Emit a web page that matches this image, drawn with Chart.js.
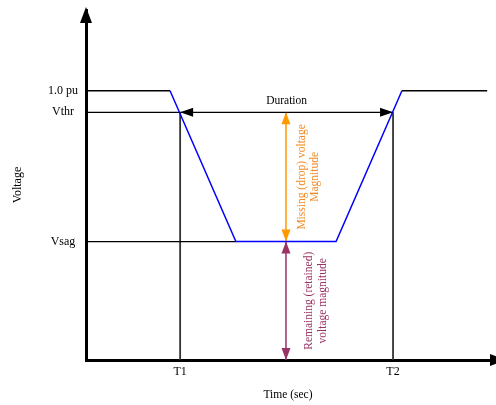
<!DOCTYPE html>
<html>
<head>
<meta charset="utf-8">
<script src="https://cdn.jsdelivr.net/npm/chart.js@4.4.1/dist/chart.umd.min.js"></script>
<style>
  html, body { margin: 0; padding: 0; background: #fff; }
  #wrap { width: 496px; height: 405px; }
</style>
</head>
<body>
<div id="wrap"><canvas id="sag-chart"></canvas></div>
<script>
// voltage sag profile, time in arbitrary units, voltage in pu
var sagTimes = [2.08, 3.71, 6.19, 7.82];
var sagVolts = [1.0, 0.44, 0.44, 1.0];
var startTime = 0;
var endTime = 9.93;
var nominal = 1.0;
var vthr = 0.92;
var vsag = 0.44;
var t1 = 2.33;
var t2 = 7.6;
var markTime = 4.95;

var yTickValues = [vsag, vthr, nominal];
var yTickLabels = ['Vsag', 'Vthr', '1.0 pu'];
var xTickValues = [t1, t2];
var xTickLabels = ['T1', 'T2'];

var missingText = ['Missing (drop) voltage', 'Magnitude'];
var remainingText = ['Remaining (retained)', 'voltage magnitude'];

var FONT = 'Liberation Serif';

function seg(points, color, width, heads) {
    return {
        data: points,
        borderColor: color,
        borderWidth: width,
        pointRadius: 0,
        fill: false,
        tension: 0,
        heads: heads || null
    };
}

var sagPoints = sagTimes.map(function(t, i) { return {x: t, y: sagVolts[i]}; });

var datasets = [
    seg([{x: startTime, y: nominal}, sagPoints[0]], '#000', 1.3),
    seg(sagPoints, '#0000ff', 1.5),
    seg([sagPoints[sagPoints.length - 1], {x: endTime, y: nominal}], '#000', 1.3),
    seg([{x: startTime, y: vthr}, {x: t1, y: vthr}], '#000', 1.2),
    seg([{x: t1, y: vthr}, {x: t2, y: vthr}], '#000', 1.3, {color: '#000', len: 13, half: 4.5}),
    seg([{x: startTime, y: vsag}, {x: sagTimes[1], y: vsag}], '#000', 1.2),
    seg([{x: t1, y: 0}, {x: t1, y: vthr}], '#333', 1.8),
    seg([{x: t2, y: 0}, {x: t2, y: vthr}], '#333', 1.8),
    seg([{x: markTime, y: vthr}, {x: markTime, y: vsag}], '#ff9900', 1.5, {color: '#ff9900', len: 12, half: 4.5}),
    seg([{x: markTime, y: vsag}, {x: markTime, y: 0}], '#993366', 1.5, {color: '#993366', len: 12, half: 4.5})
];

function drawHead(ctx, fx, fy, tx, ty, len, half, color) {
    var ang = Math.atan2(ty - fy, tx - fx);
    ctx.save();
    ctx.translate(tx, ty);
    ctx.rotate(ang);
    ctx.beginPath();
    ctx.moveTo(0, 0);
    ctx.lineTo(-len, -half);
    ctx.lineTo(-len, half);
    ctx.closePath();
    ctx.fillStyle = color;
    ctx.fill();
    ctx.restore();
}

function rotatedLines(ctx, lines, cx, cy, step, color) {
    ctx.save();
    ctx.fillStyle = color;
    ctx.font = '11.5px "' + FONT + '"';
    ctx.textAlign = 'center';
    ctx.textBaseline = 'middle';
    lines.forEach(function(line, i) {
        ctx.save();
        ctx.translate(cx + i * step, cy);
        ctx.rotate(-Math.PI / 2);
        ctx.fillText(line, 0, 0);
        ctx.restore();
    });
    ctx.restore();
}

var notesPlugin = {
    id: 'notes',
    afterDatasetsDraw: function(chart) {
        var ctx = chart.ctx;
        var xs = chart.scales.x, ys = chart.scales.y;
        var area = chart.chartArea;

        // arrow heads on both ends of marked segments
        chart.data.datasets.forEach(function(ds) {
            if (!ds.heads) return;
            var a = ds.data[0], b = ds.data[ds.data.length - 1];
            var ax = xs.getPixelForValue(a.x), ay = ys.getPixelForValue(a.y);
            var bx = xs.getPixelForValue(b.x), by = ys.getPixelForValue(b.y);
            drawHead(ctx, bx, by, ax, ay, ds.heads.len, ds.heads.half, ds.heads.color);
            drawHead(ctx, ax, ay, bx, by, ds.heads.len, ds.heads.half, ds.heads.color);
        });

        // axis arrows
        drawHead(ctx, area.left, area.top + 20, area.left, area.top - 3, 16, 6, '#000');
        drawHead(ctx, area.right - 5, area.bottom, area.right + 16, area.bottom, 16, 6, '#000');

        // labels
        ctx.save();
        ctx.font = '11.5px "' + FONT + '"';
        ctx.fillStyle = '#000';
        ctx.textAlign = 'center';
        ctx.textBaseline = 'middle';
        var midX = (xs.getPixelForValue(t1) + xs.getPixelForValue(t2)) / 2;
        ctx.fillText('Duration', midX, ys.getPixelForValue(vthr) - 11);
        ctx.restore();

        var mx = xs.getPixelForValue(markTime);
        var midMissing = (ys.getPixelForValue(vthr) + ys.getPixelForValue(vsag)) / 2;
        var midRemain = (ys.getPixelForValue(vsag) + ys.getPixelForValue(0)) / 2;
        rotatedLines(ctx, missingText, mx + 16, midMissing, 13, '#f08a24');
        rotatedLines(ctx, remainingText, mx + 23, midRemain, 14, '#993366');
    }
};

var tickFont = {family: FONT, size: 12};

new Chart(document.getElementById('sag-chart'), {
    type: 'line',
    data: {datasets: datasets},
    options: {
        responsive: true,
        maintainAspectRatio: false,
        animation: false,
        devicePixelRatio: 1,
        layout: {padding: {top: 10, right: 6, left: 0, bottom: 0}},
        plugins: {legend: {display: false}, tooltip: {enabled: false}},
        scales: {
            x: {
                type: 'linear',
                min: 0,
                max: 10,
                grid: {display: false, drawTicks: false},
                border: {display: true, color: '#000', width: 3},
                afterBuildTicks: function(scale) {
                    scale.ticks = xTickValues.map(function(v) { return {value: v}; });
                },
                afterFit: function(scale) {
                    scale.height = 45;
                    scale.paddingLeft = 0;
                    scale.paddingRight = 0;
                },
                ticks: {
                    font: tickFont,
                    color: '#000',
                    padding: 5,
                    autoSkip: false,
                    maxRotation: 0,
                    callback: function(v, i) { return xTickLabels[i]; }
                },
                title: {display: true, text: 'Time (sec)', font: {family: FONT, size: 11.5}, color: '#000', padding: {top: 0, bottom: 3}}
            },
            y: {
                type: 'linear',
                min: 0,
                max: 1.3,
                grid: {display: false, drawTicks: false},
                border: {display: true, color: '#000', width: 3},
                afterBuildTicks: function(scale) {
                    scale.ticks = yTickValues.map(function(v) { return {value: v}; });
                },
                afterFit: function(scale) {
                    scale.width = 86;
                    scale.paddingTop = 0;
                    scale.paddingBottom = 0;
                },
                ticks: {
                    font: tickFont,
                    color: '#000',
                    padding: 8,
                    crossAlign: 'center',
                    autoSkip: false,
                    callback: function(v, i) { return yTickLabels[i]; }
                },
                title: {display: true, text: 'Voltage', font: tickFont, color: '#000', padding: {top: 11, bottom: 0}}
            }
        }
    },
    plugins: [notesPlugin]
});
</script>
</body>
</html>
